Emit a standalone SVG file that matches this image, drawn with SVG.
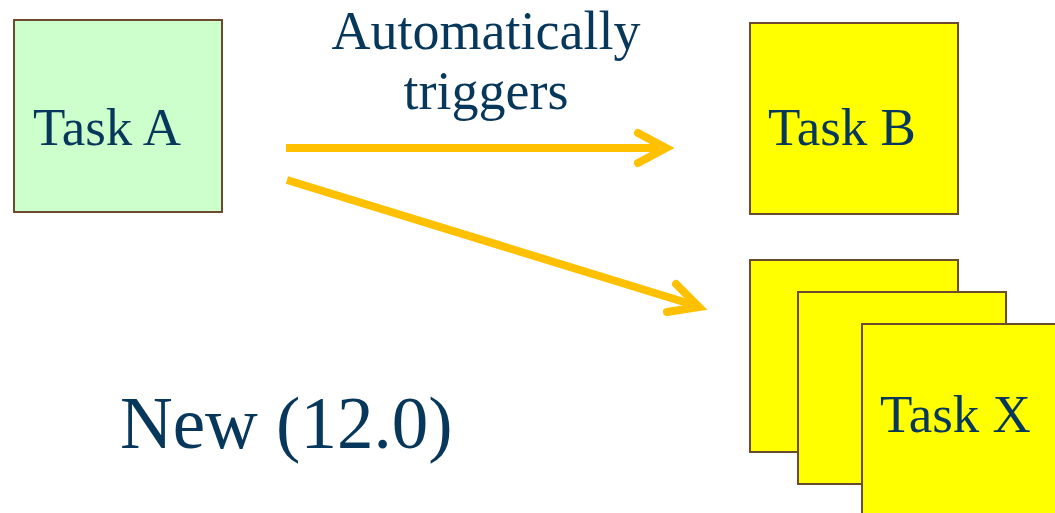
<svg xmlns="http://www.w3.org/2000/svg" width="1055" height="513" viewBox="0 0 1055 513">
<style>
.box{stroke:#6B4A2E;stroke-width:2}
.green{fill:#CCFFCC}
.yellow{fill:#FFFF00}
.t{font-family:"Liberation Serif","Times New Roman",serif;fill:#07375A}
.task{font-size:53px}
.conn{stroke:#FFC000;stroke-width:8;fill:none;stroke-linecap:butt}
.head{stroke:#FFC000;stroke-width:8;fill:none;stroke-linecap:round;stroke-linejoin:miter}
</style>
<rect width="1055" height="513" fill="#FFFFFF"/>
<g id="taskA">
<rect class="box green" x="14" y="20" width="208" height="192"/>
<text class="t task" x="33" y="145">Task A</text>
</g>
<g id="taskB">
<rect class="box yellow" x="750" y="23" width="208" height="191"/>
<text class="t task" x="768" y="145">Task B</text>
</g>
<g id="taskX">
<rect class="box yellow" x="750" y="260" width="208" height="192"/>
<rect class="box yellow" x="798" y="292" width="208" height="192"/>
<rect class="box yellow" x="862" y="324" width="200" height="200"/>
<text class="t task" x="880" y="432">Task X</text>
</g>
<g id="label">
<text class="t" x="486" y="49" font-size="54" text-anchor="middle">Automatically</text>
<text class="t" x="486" y="109" font-size="54" text-anchor="middle">triggers</text>
</g>
<g id="note">
<text class="t" x="120" y="448" font-size="73">New (12.0)</text>
</g>
<g id="connectors">
<line class="conn" x1="286" y1="148" x2="664" y2="148"/>
<polyline class="head" points="638,133 666,148 638,163"/>
<line class="conn" x1="287" y1="180" x2="697" y2="306"/>
<polyline class="head" points="676,284 699,307 667,312"/>
</g>
</svg>
